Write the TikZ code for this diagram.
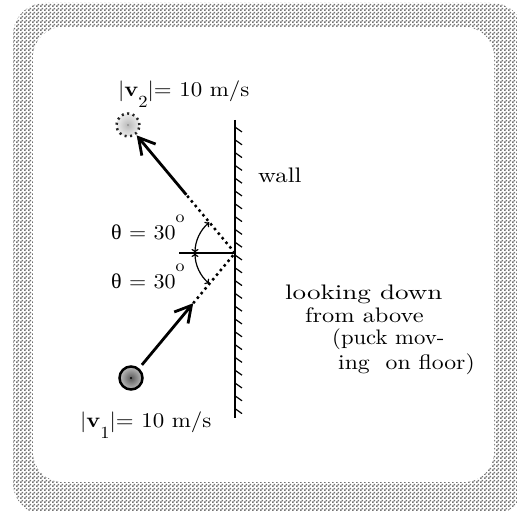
\documentclass[tikz,border=0pt]{standalone}
\usepackage{fontspec}
\usepackage{graphicx}
\setmainfont{lmroman10-regular.otf}[BoldFont=lmroman10-bold.otf, ItalicFont=lmroman10-italic.otf]
\usetikzlibrary{patterns,arrows.meta,calc}
\newfontfamily\grk{Liberation Serif}
\newcommand{\tx}[2]{\scalebox{#1}[1]{#2}}
\pgfdeclarepatternformonly{finecheck}{\pgfpointorigin}{\pgfqpoint{4pt}{4pt}}{\pgfqpoint{4pt}{4pt}}{%
  \pgfpathrectangle{\pgfpointorigin}{\pgfqpoint{2pt}{2pt}}%
  \pgfpathrectangle{\pgfqpoint{2pt}{2pt}}{\pgfqpoint{2pt}{2pt}}%
  \pgfusepath{fill}}
\begin{document}
\begin{tikzpicture}[x=1pt,y=1pt,
  lbl/.style={inner sep=0pt, anchor=base west, font=\fontsize{21}{25}\selectfont},
  ray/.style={line width=2.8pt},
  dots/.style={line width=2.5pt, dash pattern=on 2.5pt off 3.5pt},
  wallline/.style={line width=2.8pt},
  hatch/.style={line width=1.2pt},
  thinline/.style={line width=1.2pt},
  bigtip/.style={-{Straight Barb[length=16pt,width=18pt]}},
  angtip/.style={{To[length=4pt,width=7pt]}-{To[length=4pt,width=7pt]}}
]
\useasboundingbox (0,0) rectangle (517,511);
% frame
\fill[pattern=finecheck, pattern color=black!55, rounded corners=32pt] (13,-4) rectangle (524,508);
\fill[white, rounded corners=30pt] (33,29) rectangle (494,484);

% wall
\coordinate (wt) at (235,391);
\coordinate (wb) at (235,93);
\draw[wallline] (wt) -- (wb);
\foreach \k in {0,...,22}
  \draw[hatch] ($(wt)+(0,-7-12.8*\k)$) -- ++(7,-5);

% reflection point and normal
\coordinate (R) at (235,258);
\coordinate (N) at (179,258);
\draw[thinline] (N) -- (R);

% pucks
\node[circle, minimum size=23pt, inner sep=0pt, line width=2.5pt, draw=black,
      shading=radial, inner color=black!65, outer color=black!25] (p1) at (131,133) {};
\fill (p1.center) circle (1.2pt);
\node[circle, minimum size=23pt, inner sep=0pt, line width=2.5pt, draw=black!85,
      dash pattern=on 2pt off 3.6pt,
      shading=radial, inner color=gray!55, outer color=gray!15] (p2) at (128,386) {};
\fill[gray] (p2.center) circle (0.8pt);

% incoming ray
\coordinate (s1) at ($(p1.center)!0.105!(R)$);
\coordinate (t1) at ($(p1.center)!0.598!(R)$);
\draw[ray, bigtip] (s1) -- (t1);
\draw[dots] (t1) -- (R);

% outgoing ray
\coordinate (d2) at ($(p2.center)!0.545!(R)$);
\coordinate (t2) at ($(p2.center)!0.081!(R)$);
\draw[dots] (R) -- (d2);
\draw[ray, bigtip] (d2) -- (t2);

% angle arcs
\coordinate (a0) at ($(R)+(180:40pt)$);
\draw[thinline, angtip] (a0) arc[start angle=180, end angle=130, radius=40pt];
\draw[thinline, angtip] (a0) arc[start angle=180, end angle=230, radius=40pt];

% labels
\node[lbl] (v2) at (118,414) {\tx{1.09}{$|$\textbf{v}\raisebox{-11pt}{\fontsize{17}{17}\selectfont 2}$|$= 10 m/s}};
\node[lbl] (v1) at (80,83) {\tx{1.09}{$|$\textbf{v}\raisebox{-11pt}{\fontsize{17}{17}\selectfont 1}$|$= 10 m/s}};
\node[lbl] (wall) at (258,328) {\tx{1.18}{wall}};
\node[lbl] (th1) at (111,271) {\tx{1.05}{{\grk θ} = 30\raisebox{17pt}{\fontsize{17}{17}\selectfont o}}};
\node[lbl] (th2) at (111,222) {\tx{1.05}{{\grk θ} = 30\raisebox{17pt}{\fontsize{17}{17}\selectfont o}}};
\node[lbl] (l1) at (285,211) {\tx{1.29}{looking down}};
\node[lbl] (l2) at (305,188) {\tx{1.16}{from above}};
\node[lbl] (l3) at (332,166) {\tx{1.08}{(puck mov-}};
\node[lbl] (l4) at (338,141) {\tx{1.13}{ing\ \ on floor)}};
\end{tikzpicture}
\end{document}
